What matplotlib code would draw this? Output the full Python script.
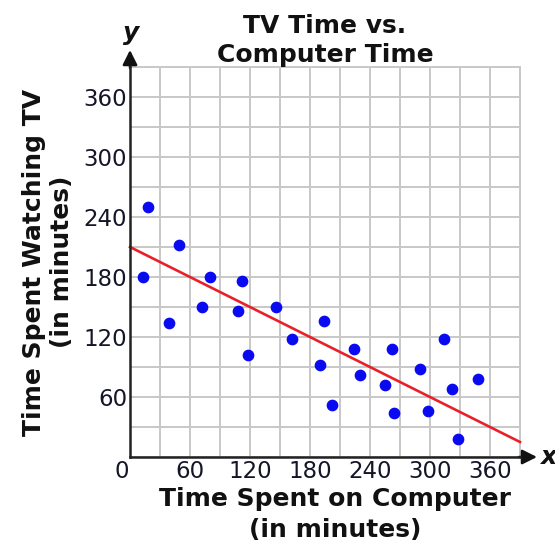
import numpy as np
import matplotlib.pyplot as plt

# ---------- Data ----------
computer_min = [18, 13, 49, 39, 72, 80, 108, 112, 118, 146, 162, 194, 190,
                202, 224, 230, 255, 262, 264, 290, 298, 314, 322, 328, 348]
tv_min = [250, 180, 212, 134, 150, 180, 146, 176, 102, 150, 118, 136, 92,
          52, 108, 82, 72, 108, 44, 88, 46, 118, 68, 18, 78]
fit_intercept = 210
fit_slope = -0.5
tick_values = [60, 120, 180, 240, 300, 360]

AXIS_MAX = 390
GRID_STEP = 30
TEXT_COLOR = "#15152a"

fig = plt.figure(figsize=(5.55, 5.45), dpi=100)
ax = fig.add_axes([130 / 555, 88 / 545, 390 / 555, 390 / 545])

ax.set_xlim(0, AXIS_MAX)
ax.set_ylim(0, AXIS_MAX)

# grid every 30 minutes, labels every 60
grid_ticks = np.arange(0, AXIS_MAX + 1, GRID_STEP)
ax.set_xticks(grid_ticks)
ax.set_yticks(grid_ticks)
ax.set_xticklabels([str(t) if t in tick_values else "" for t in grid_ticks])
ax.set_yticklabels([str(t) if t in tick_values else "" for t in grid_ticks])
ax.tick_params(length=0, labelsize=16.5, labelcolor=TEXT_COLOR, pad=2)
ax.grid(True, color="#c8c8c8", linewidth=1.4)
ax.set_axisbelow(True)

for side in ["top", "right"]:
    ax.spines[side].set_color("#c8c8c8")
    ax.spines[side].set_linewidth(1.4)
for side in ["left", "bottom"]:
    ax.spines[side].set_color("#222222")
    ax.spines[side].set_linewidth(1.8)
    ax.spines[side].set_zorder(5)

# axis extensions with arrowheads
arrow = dict(arrowstyle="-|>", color="#111111", lw=1.8,
             mutation_scale=22, shrinkA=0, shrinkB=0)
ax.annotate("", xy=(0, AXIS_MAX + 17), xytext=(0, AXIS_MAX - 1),
            arrowprops=arrow, annotation_clip=False)
ax.annotate("", xy=(AXIS_MAX + 17, 0), xytext=(AXIS_MAX - 1, 0),
            arrowprops=arrow, annotation_clip=False)
ax.text(1, AXIS_MAX + 27, "y", fontsize=18, fontweight="bold", style="italic",
        ha="center", va="baseline", color="#111111")
ax.text(AXIS_MAX + 20, 0, "x", fontsize=18, fontweight="bold", style="italic",
        ha="left", va="center", color="#111111")
ax.annotate("0", xy=(0, 0), xytext=(-6, -2), textcoords="offset points",
            ha="center", va="top", fontsize=16.5, color=TEXT_COLOR,
            annotation_clip=False)

# trend line and points
xs = np.array([0, AXIS_MAX])
ax.plot(xs, fit_intercept + fit_slope * xs, color="#e8202a", linewidth=1.9,
        zorder=3, clip_on=False)
ax.scatter(computer_min, tv_min, s=55, color="#0a0af0", zorder=4)

ax.set_title("TV Time vs.\nComputer Time", fontsize=18, fontweight="bold",
             color="#111111", pad=3, linespacing=1.25)
ax.set_xlabel("Time Spent on Computer\n(in minutes)", fontsize=18,
              fontweight="bold", color="#111111", linespacing=1.35)
ax.xaxis.set_label_coords(0.525, -0.077)
ax.set_ylabel("Time Spent Watching TV\n(in minutes)", fontsize=18,
              fontweight="bold", color="#111111", labelpad=7, linespacing=1.2)

fig.savefig("out.png", dpi=100)
